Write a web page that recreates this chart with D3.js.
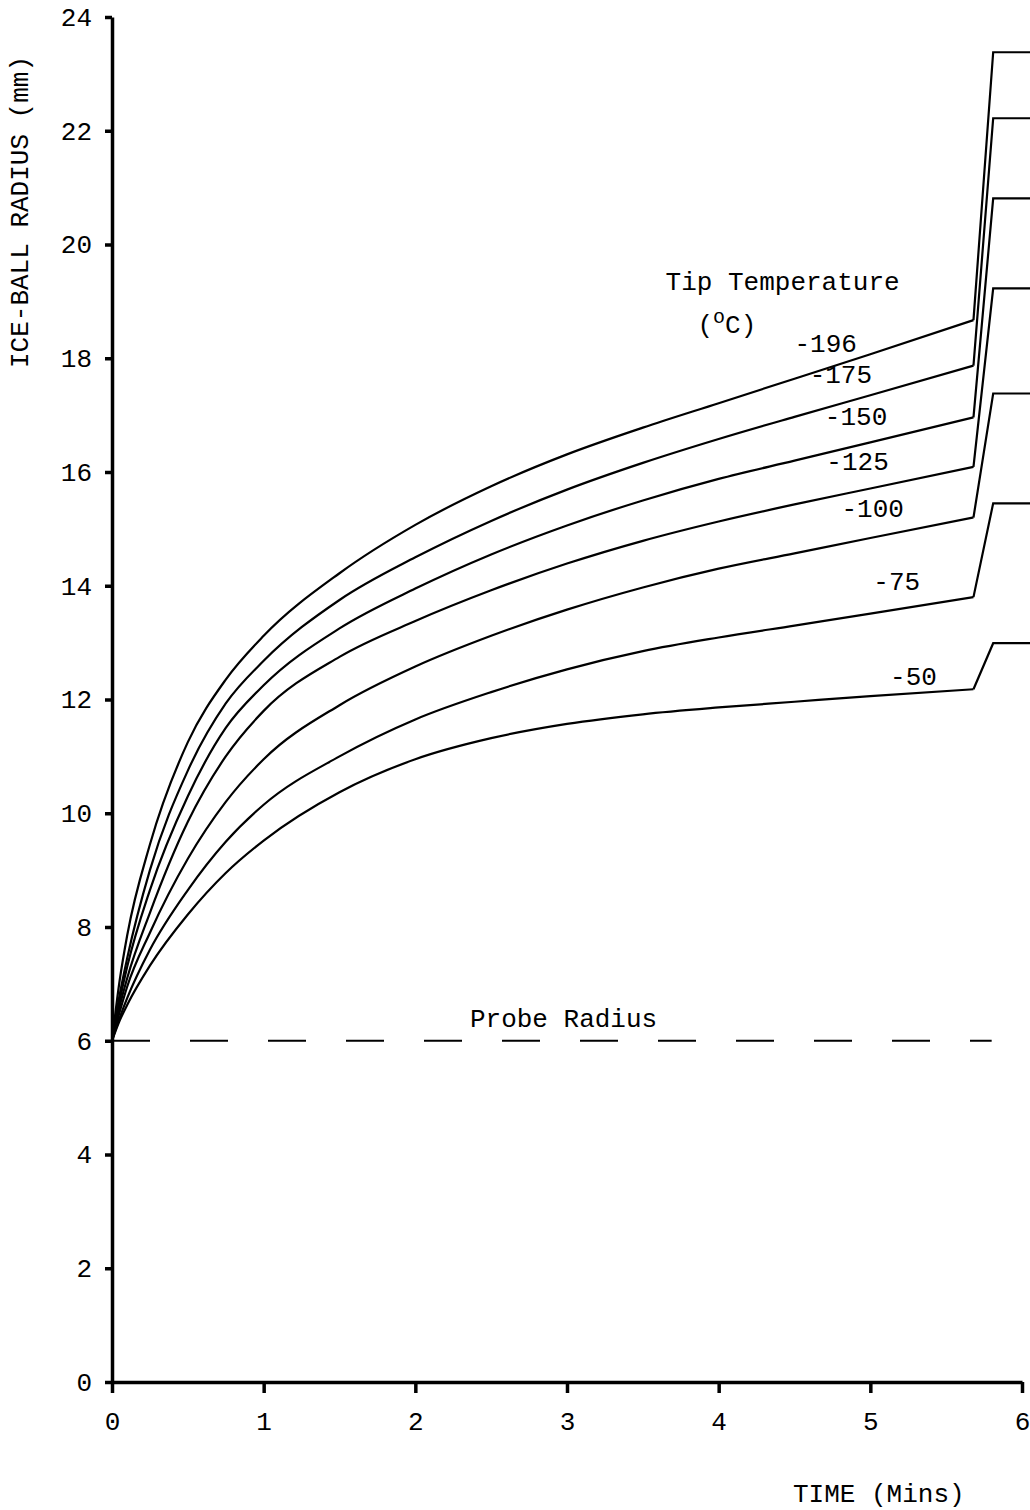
<!DOCTYPE html>
<html>
<head>
<meta charset="utf-8">
<script src="https://cdn.jsdelivr.net/npm/d3@7"></script>
<style>
  body { margin: 0; background: #fff; }
  text { font-family: "Liberation Mono", "Courier New", monospace; fill: #000; }
</style>
</head>
<body>
<script>
var times = [0, 0.05, 0.1, 0.25, 0.5, 0.75, 1, 1.5, 2, 2.5, 3, 3.5, 4, 4.5, 5, 5.68];

// ice-ball radius (mm) for each tip temperature
var tipTemps = ["-196", "-175", "-150", "-125", "-100", "-75", "-50"];
var r196 = [6, 7.05, 7.85, 9.45, 11.25, 12.35, 13.12, 14.22, 15.07, 15.75, 16.31, 16.78, 17.21, 17.64, 18.07, 18.67];
var r175 = [6, 6.8, 7.45, 9.0, 10.75, 11.93, 12.68, 13.75, 14.5, 15.14, 15.69, 16.16, 16.58, 16.97, 17.35, 17.87];
var r150 = [6, 6.7, 7.3, 8.65, 10.3, 11.5, 12.25, 13.25, 13.95, 14.55, 15.06, 15.5, 15.88, 16.2, 16.52, 16.96];
var r125 = [6, 6.6, 7.1, 8.25, 9.85, 11.0, 11.8, 12.75, 13.38, 13.92, 14.39, 14.79, 15.13, 15.43, 15.71, 16.09];
var r100 = [6, 6.5, 6.95, 7.9, 9.2, 10.2, 10.95, 11.9, 12.58, 13.12, 13.58, 13.97, 14.3, 14.57, 14.84, 15.2];
var r75  = [6, 6.4, 6.75, 7.6, 8.65, 9.5, 10.15, 11.0, 11.65, 12.13, 12.53, 12.85, 13.09, 13.3, 13.51, 13.8];
var r50  = [6, 6.35, 6.63, 7.32, 8.22, 8.95, 9.52, 10.37, 10.95, 11.32, 11.57, 11.74, 11.86, 11.96, 12.06, 12.18];

// the jump at the end of each run and the level it settles at
var jumpTimes = [5.81, 6.1];
var plateaus = [23.38, 22.22, 20.81, 19.23, 17.38, 15.45, 12.99];

var probeRadius = 6;
var xTicks = [0, 1, 2, 3, 4, 5, 6];
var yTicks = [0, 2, 4, 6, 8, 10, 12, 14, 16, 18, 20, 22, 24];

var series = [r196, r175, r150, r125, r100, r75, r50];

// where the temperature labels sit (data coords)
var labelAt = [[4.50, 18.11], [4.60, 17.56], [4.70, 16.83], [4.71, 16.04], [4.81, 15.21], [5.02, 13.93], [5.13, 12.25]];

var width = 1030, height = 1510;

var xScale = d3.scaleLinear().domain([0, 6]).range([112, 1022]);
var yScale = d3.scaleLinear().domain([0, 24]).range([1382, 17]);

var svg = d3.select("body").append("svg")
    .attr("width", width)
    .attr("height", height);

var fontSize = 26;

// curves
var smooth = d3.line()
    .x(function(d) { return xScale(d[0]); })
    .y(function(d) { return yScale(d[1]); })
    .curve(d3.curveMonotoneX);
var straight = d3.line()
    .x(function(d) { return xScale(d[0]); })
    .y(function(d) { return yScale(d[1]); });

series.forEach(function(vals, i) {
  var pts = times.map(function(t, j) { return [t, vals[j]]; });
  svg.append("path")
      .attr("d", smooth(pts))
      .attr("fill", "none")
      .attr("stroke", "#000")
      .attr("stroke-width", 2.2);

  var last = pts[pts.length - 1];
  var step = [last].concat(jumpTimes.map(function(t) { return [t, plateaus[i]]; }));
  svg.append("path")
      .attr("d", straight(step))
      .attr("fill", "none")
      .attr("stroke", "#000")
      .attr("stroke-width", 2.2);

  svg.append("text")
      .attr("x", xScale(labelAt[i][0]))
      .attr("y", yScale(labelAt[i][1]))
      .style("font-size", fontSize + "px")
      .text(tipTemps[i]);
});

// probe radius
svg.append("line")
    .attr("x1", xScale(0))
    .attr("x2", xScale(5.8))
    .attr("y1", yScale(probeRadius))
    .attr("y2", yScale(probeRadius))
    .attr("stroke", "#000")
    .attr("stroke-width", 2.2)
    .attr("stroke-dasharray", "38,40");

svg.append("text")
    .attr("x", xScale(2.36))
    .attr("y", yScale(6.24))
    .style("font-size", fontSize + "px")
    .text("Probe Radius");

// legend title
svg.append("text")
    .attr("x", xScale(3.65))
    .attr("y", yScale(19.2))
    .style("font-size", fontSize + "px")
    .text("Tip Temperature");

var degC = svg.append("text")
    .attr("x", xScale(3.86))
    .attr("y", yScale(18.44))
    .style("font-size", fontSize + "px");
degC.append("tspan").text("(");
degC.append("tspan").attr("dy", -10).style("font-size", "20px").text("o");
degC.append("tspan").attr("dy", 10).text("C)");

// axes
var yAxis = svg.append("g")
    .attr("transform", "translate(" + xScale(0) + ",0)")
    .call(d3.axisLeft(yScale).tickValues(yTicks).tickSize(7).tickSizeOuter(0).tickPadding(13).tickFormat(d3.format("d")));

var xAxis = svg.append("g")
    .attr("transform", "translate(0," + yScale(0) + ")")
    .call(d3.axisBottom(xScale).tickValues(xTicks).tickSize(11).tickSizeOuter(0).tickPadding(19).tickFormat(d3.format("d")));

[xAxis, yAxis].forEach(function(ax) {
  ax.select(".domain").attr("stroke", "#000").attr("stroke-width", 3.5);
  ax.selectAll(".tick line").attr("stroke", "#000").attr("stroke-width", 3.5);
  ax.selectAll(".tick text")
      .style("font-family", "'Liberation Mono', 'Courier New', monospace")
      .style("font-size", fontSize + "px")
      .attr("fill", "#000");
});

// axis titles
svg.append("text")
    .attr("transform", "translate(28,212)rotate(-90)")
    .attr("text-anchor", "middle")
    .style("font-size", "26px")
    .text("ICE-BALL RADIUS (mm)");

svg.append("text")
    .attr("x", 793)
    .attr("y", 1502)
    .style("font-size", fontSize + "px")
    .text("TIME (Mins)");
</script>
</body>
</html>
